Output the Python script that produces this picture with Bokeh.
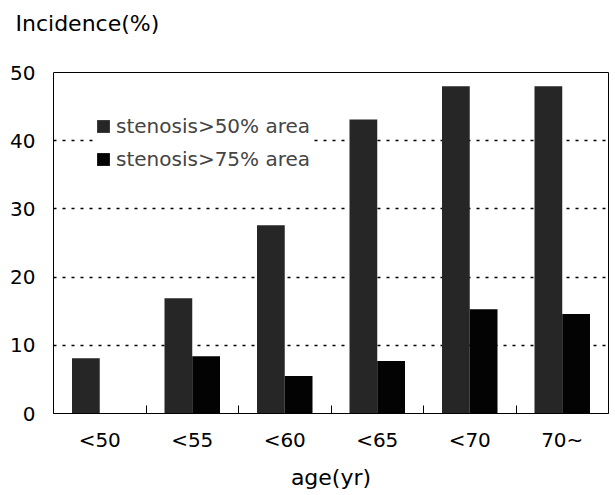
from bokeh.plotting import figure
from bokeh.models import ColumnDataSource, Range1d, FixedTicker, LinearAxis
from bokeh.transform import dodge
from bokeh.embed import file_html
from bokeh.resources import INLINE

ages = ["<50", "<55", "<60", "<65", "<70", "70~"]
sten50 = [8.1, 16.9, 27.6, 43.1, 48.0, 48.0]
sten75 = [0.0, 8.4, 5.5, 7.7, 15.3, 14.6]
y_ticks = [0, 10, 20, 30, 40, 50]

FONT = "DejaVu Sans"

idx = list(range(len(ages)))
src = ColumnDataSource(dict(x=idx, s50=sten50, s75=sten75))

p = figure(width=612, height=492, output_backend="svg", toolbar_location=None,
           x_range=Range1d(0, len(ages)), y_range=Range1d(0, 50),
           min_border_left=53, min_border_right=4, min_border_top=72, min_border_bottom=77)

p.vbar(x=dodge("x", 0.35), top="s50", width=0.3, source=src,
       fill_color="#262626", line_color=None, legend_label="stenosis>50% area")
p.vbar(x=dodge("x", 0.65), top="s75", width=0.3, source=src,
       fill_color="#030303", line_color=None, legend_label="stenosis>75% area")

xa = p.below[0]
ya = p.left[0]

# invisible spacer axis between the title and the plot frame (white tick on white)
spacer = LinearAxis(ticker=FixedTicker(ticks=[0]), axis_line_color=None,
                    major_tick_line_color="white", minor_tick_line_color=None,
                    major_tick_out=32, major_tick_in=0, minor_tick_out=0,
                    major_label_standoff=0, major_label_text_font_size="1px",
                    major_label_text_color="white", major_label_overrides={0: ""})
p.add_layout(spacer, "above")

p.title.text = "Incidence(%)"
p.title.text_font = FONT
p.title.text_font_size = "22px"
p.title.text_font_style = "normal"
p.title.text_color = "black"
p.title.align = "left"
p.title.offset = -38
p.title.standoff = 10

xa.ticker = FixedTicker(ticks=[i + 0.5 for i in idx], minor_ticks=[i for i in idx[1:]])
xa.major_label_overrides = {i + 0.5: a for i, a in zip(idx, ages)}
xa.major_tick_line_color = None
xa.major_tick_out = 0
xa.major_tick_in = 0
xa.minor_tick_in = 8
xa.minor_tick_out = 0
xa.minor_tick_line_color = "black"
xa.major_label_text_font = FONT
xa.major_label_text_font_size = "20px"
xa.major_label_text_color = "black"
xa.major_label_standoff = 14
xa.axis_label = "age(yr)"
xa.axis_label_text_font = FONT
xa.axis_label_text_font_size = "22px"
xa.axis_label_text_font_style = "normal"
xa.axis_label_text_color = "black"
xa.axis_label_standoff = 10
xa.axis_line_color = "black"

ya.ticker = FixedTicker(ticks=y_ticks)
ya.major_tick_line_color = None
ya.major_tick_out = 0
ya.major_tick_in = 0
ya.minor_tick_line_color = None
ya.major_label_text_font = FONT
ya.major_label_text_font_size = "20px"
ya.major_label_text_color = "black"
ya.major_label_standoff = 18
ya.axis_line_color = "black"

p.xgrid.grid_line_color = None
p.ygrid.ticker = FixedTicker(ticks=y_ticks[1:-1])
p.ygrid.grid_line_color = "black"
p.ygrid.grid_line_dash = "3 6"
p.ygrid.grid_line_width = 1.3

p.outline_line_color = "black"
p.outline_line_width = 1
p.outline_line_alpha = 1

lg = p.legend[0]
lg.location = "top_left"
lg.margin = 42
lg.padding = 12
lg.border_line_color = None
lg.background_fill_color = "white"
lg.background_fill_alpha = 1
lg.label_text_font = FONT
lg.label_text_font_size = "20px"
lg.glyph_width = 16
lg.glyph_height = 16
lg.label_standoff = 5
lg.spacing = 9

open("out.html", "w").write(file_html(p, INLINE))
